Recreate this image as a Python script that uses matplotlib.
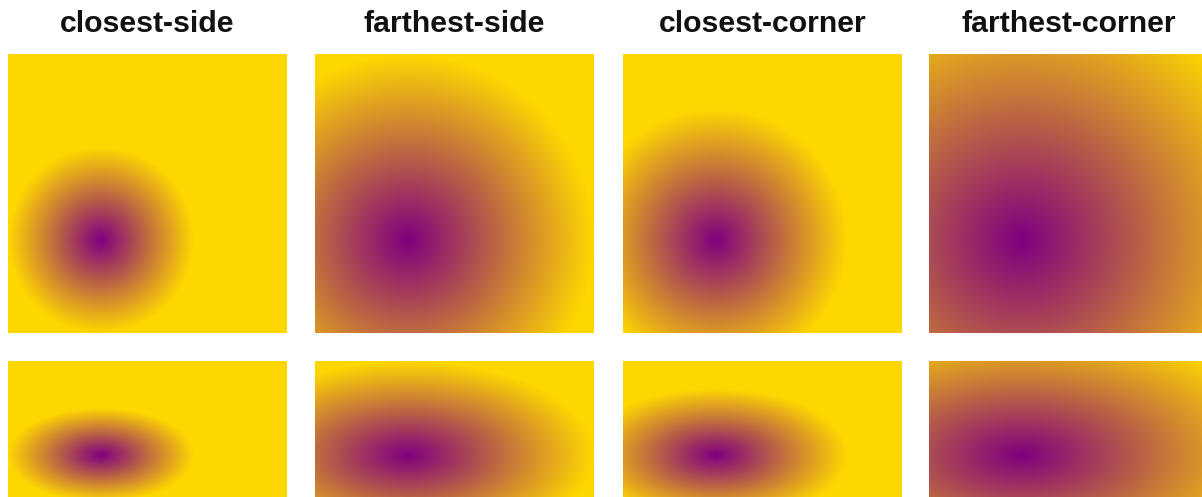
import numpy as np
import matplotlib
matplotlib.use("Agg")
import matplotlib.pyplot as plt

# ---- data ----
titles = ["closest-side", "farthest-side", "closest-corner", "farthest-corner"]
sizes = ["closest-side", "farthest-side", "closest-corner", "farthest-corner"]
shapes = ["circle", "ellipse"]
center_frac = (1 / 3, 2 / 3)          # gradient centre, fraction of box (x, y from top)
color_start = (128, 0, 128)           # purple
color_end = (255, 215, 0)             # gold

# ---- layout (pixels) ----
W, H = 1202, 497
col_left = [8, 315, 623, 929]
box_w = 279
row_top = [54, 361]
row_h = [279, 141]

fig = plt.figure(figsize=(W / 100, H / 100), dpi=100)
fig.patch.set_facecolor("white")


def radii(shape, size, w, h, cx, cy):
    dx = [cx, w - cx]
    dy = [cy, h - cy]
    if shape == "circle":
        if size == "closest-side":
            r = min(dx + dy)
        elif size == "farthest-side":
            r = max(dx + dy)
        elif size == "closest-corner":
            r = np.hypot(min(dx), min(dy))
        else:
            r = np.hypot(max(dx), max(dy))
        return r, r
    else:
        if size in ("closest-side", "closest-corner"):
            rx, ry = min(dx), min(dy)
        else:
            rx, ry = max(dx), max(dy)
        if size.endswith("corner"):
            rx, ry = rx * np.sqrt(2), ry * np.sqrt(2)
        return rx, ry


c0 = np.array(color_start) / 255.0
c1 = np.array(color_end) / 255.0

for r, shape in enumerate(shapes):
    h = row_h[r]
    for c, size in enumerate(sizes):
        w = box_w
        cx, cy = center_frac[0] * w, center_frac[1] * h
        rx, ry = radii(shape, size, w, h, cx, cy)
        xs = np.arange(w) + 0.5
        ys = np.arange(h) + 0.5
        X, Y = np.meshgrid(xs, ys)
        t = np.sqrt(((X - cx) / rx) ** 2 + ((Y - cy) / ry) ** 2)
        t = np.clip(t, 0, 1)[..., None]
        img = c0 * (1 - t) + c1 * t
        ax = fig.add_axes([col_left[c] / W, 1 - (row_top[r] + h) / H, w / W, h / H])
        ax.imshow(img, interpolation="bilinear", aspect="auto", extent=(0, w, h, 0))
        ax.set_axis_off()

for c, title in enumerate(titles):
    fig.text((col_left[c] + box_w / 2) / W, 1 - 24 / H, title,
             ha="center", va="center", fontsize=21.8, fontweight="bold",
             family=["Liberation Sans", "DejaVu Sans"], color="#111111")

fig.savefig("out.png", dpi=100, facecolor="white")
